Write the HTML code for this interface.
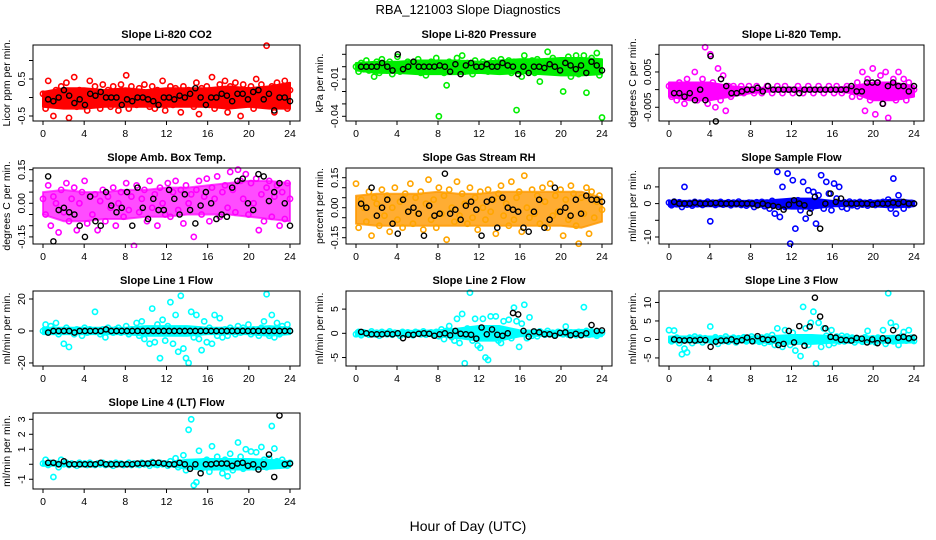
<!DOCTYPE html>
<html><head><meta charset="utf-8">
<style>
html,body{margin:0;padding:0;background:#fff;}
svg{display:block;font-family:"Liberation Sans",Arial,sans-serif;}
</style></head>
<body>
<svg id="chart" width="936" height="540" viewBox="0 0 936 540">
<text x="468" y="14" text-anchor="middle" font-size="13">RBA_121003  Slope Diagnostics</text>
<text x="468" y="531" text-anchor="middle" font-size="14">Hour of Day (UTC)</text>
</svg>
<script>
// ---------- data arrays ----------
const xTicks = [0,4,8,12,16,20,24];
const bandHours = [0,2,4,6,8,10,12,14,16,18,20,22,24];

const co2Colored = [0.1,-0.3,0.45,0.0,-0.5,0.2,-0.1,0.3,-0.2,0.4,-0.55,0.1,0.55,-0.25,0.2,-0.1,0.0,-0.35,0.45,-0.2,0.3,0.1,-0.3,0.35,-0.1,0.2,-0.25,0.3,0.0,-0.35,0.35,-0.15,0.6,-0.3,0.3,0.0,-0.2,0.25,-0.1,0.35,0.1,-0.25,0.3,-0.3,0.2,0.0,0.45,-0.35,-0.1,0.3,-0.2,0.25,0.05,-0.4,0.3,-0.15,0.2,0.1,-0.25,0.4,-0.45,0.25,-0.1,0.3,-0.2,0.55,-0.3,0.1,0.35,-0.1,0.45,-0.4,0.3,-0.2,0.4,0.0,-0.5,0.35,-0.1,0.2,0.3,-0.3,0.5,-0.1,0.35,0.0,1.4,-0.2,0.3,-0.4,0.4,0.1,-0.2,0.45,-0.3,0.2];
const co2Black = [-0.05,-0.1,0.0,0.2,0.05,-0.15,-0.05,-0.2,0.1,0.05,0.15,0.0,0.0,0.0,-0.2,-0.05,-0.1,0.0,0.0,-0.05,-0.1,-0.2,0.0,0.0,-0.05,0.05,0.0,0.1,0.25,0.0,-0.2,0.0,0.0,0.1,0.05,-0.1,0.1,0.1,-0.05,0.15,0.2,-0.05,0.1,-0.35,0.0,0.0,-0.1];
const co2BandLo = [-0.25,-0.3,-0.3,-0.25,-0.25,-0.25,-0.25,-0.25,-0.25,-0.3,-0.25,-0.3,-0.3];
const co2BandHi = [0.15,0.25,0.25,0.2,0.25,0.2,0.25,0.25,0.25,0.3,0.25,0.3,0.4];
const co2Ticks = [-0.5,0,0.5,1.0];
const co2TickLabels = ["-0.5","","0.5",""];

const presColored = [0,-0.004,0.003,-0.002,0.005,-0.003,0.001,-0.008,0.004,-0.005,0.006,0.0,-0.003,0.004,-0.006,0.002,0.008,-0.004,0.001,-0.002,0.004,0.0,-0.003,0.003,0.006,-0.005,0.002,-0.007,0.001,0.004,-0.002,0.007,-0.04,0.002,-0.005,-0.015,0.004,-0.003,0.001,0.007,-0.002,0.009,-0.004,0.003,0.0,-0.006,0.005,0.002,-0.003,0.004,0.0,-0.004,0.003,0.005,-0.002,0.001,0.006,-0.003,0.002,0.005,-0.005,0.004,-0.035,0.001,-0.008,0.009,0.003,-0.002,0.005,-0.005,0.006,-0.012,0.002,0.004,0.012,-0.003,0.007,0.001,-0.004,0.005,-0.02,0.003,0.008,-0.008,0.001,0.009,-0.006,0.005,0.009,-0.021,0.003,0.007,-0.004,0.011,-0.007,-0.041];
const presBlack = [0,0,0,0,0.003,0,-0.003,0.01,-0.002,0.0,0.004,0,0,0,0,0.001,0,-0.004,0.002,-0.006,0.001,0.003,0,0,0.002,0,0,0.003,0.001,0,-0.006,0,-0.005,0,0,-0.001,0.002,0,-0.003,0.003,0.001,-0.002,0.001,-0.005,0.004,0.001,-0.003];
const presBandLo = [-0.003,-0.005,-0.005,-0.006,-0.006,-0.006,-0.005,-0.006,-0.005,-0.006,-0.007,-0.007,-0.006];
const presBandHi = [0.003,0.004,0.004,0.005,0.005,0.005,0.004,0.005,0.006,0.006,0.007,0.007,0.006];
const presTicks = [-0.04,-0.03,-0.02,-0.01,0,0.01];
const presTickLabels = ["-0.04","","","-0.01","",""];

const tempColored = [0.001,-0.002,0.0,-0.003,0.002,-0.001,-0.004,0.003,0.0,-0.002,0.005,-0.003,0.001,0.003,0.012,-0.004,0.01,0.002,-0.005,0.006,-0.003,0.004,-0.006,0.001,-0.002,0.001,-0.001,0.0,0.001,-0.001,0.0,0.001,0.0,-0.001,0.001,0.0,-0.001,0.0,0.001,0.0,-0.001,0.0,0.001,0.0,-0.001,0.001,0.0,0.0,-0.001,0.0,0.001,0.0,-0.001,0.0,0.001,0.0,-0.001,0.0,0.001,0.0,-0.001,0.0,0.001,0.0,-0.001,0.001,0.0,-0.001,0.0,0.001,0.0,-0.002,0.0,0.002,-0.002,0.005,-0.006,0.003,-0.003,0.006,-0.007,0.002,0.004,-0.004,0.005,-0.008,0.001,0.003,-0.003,0.005,-0.002,0.003,-0.003,0.002,-0.001,0.0];
const tempBlack = [-0.001,-0.001,-0.002,-0.001,-0.003,0.0,-0.003,0.0095,-0.009,0.003,0.001,-0.001,-0.001,-0.0005,0.0,0.0,0.0005,-0.0005,0.001,0.0,0.0,0.0,0.0,0.0,-0.001,0.0,0.0,0.0,0.0,0.0,0.0,0.0,0.0,0.0,0.001,-0.0005,-0.0005,0.002,0.002,0.002,-0.004,0.001,0.002,0.001,0.001,-0.0005,0.001];
const tempBandLo = [-0.002,-0.003,-0.003,-0.002,-0.001,-0.0005,-0.0005,-0.0005,-0.0005,-0.001,-0.003,-0.003,-0.002];
const tempBandHi = [0.002,0.002,0.002,0.001,0.0005,0.0005,0.0005,0.0005,0.0005,0.001,0.002,0.002,0.001];
const tempTicks = [-0.005,0,0.005,0.01];
const tempTickLabels = ["-0.005","","0.005",""];

const ambColored = [0.02,-0.05,0.08,-0.1,0.03,0.0,-0.13,0.06,-0.04,0.09,-0.08,0.02,0.07,-0.12,0.0,0.05,0.1,-0.09,0.03,-0.05,0.04,-0.12,0.01,0.06,-0.08,0.03,-0.02,0.07,-0.1,0.0,0.05,-0.06,0.09,-0.03,0.03,-0.19,0.08,-0.04,0.02,0.06,-0.08,0.1,-0.02,0.04,-0.1,0.07,0.0,-0.05,0.09,-0.06,0.05,0.1,-0.03,0.06,-0.09,0.08,0.0,0.04,-0.15,0.06,0.1,-0.05,0.03,0.11,-0.08,0.07,0.02,0.12,-0.06,0.05,0.08,-0.02,0.14,0.06,-0.04,0.15,0.1,0.02,0.13,-0.05,0.09,0.0,0.11,-0.12,0.04,-0.08,0.07,0.1,-0.06,0.03,0.08,-0.1,0.05,-0.07,0.09,0.02];
const ambBlack = [0.12,-0.17,-0.03,-0.02,-0.04,-0.05,-0.1,-0.15,0.03,-0.08,-0.1,0.05,-0.01,-0.04,-0.02,0.05,-0.1,0.07,-0.02,-0.07,0.02,-0.03,-0.03,0.06,0.02,-0.05,0.04,-0.03,-0.09,-0.01,0.05,0.0,-0.07,-0.05,-0.06,0.07,0.1,0.11,0.0,-0.03,0.13,0.12,0.01,0.05,0.09,0.0,-0.1];
const ambBandLo = [-0.05,-0.08,-0.08,-0.07,-0.07,-0.06,-0.06,-0.05,-0.05,-0.05,-0.06,-0.07,-0.08];
const ambBandHi = [0.05,0.06,0.05,0.05,0.06,0.06,0.07,0.07,0.08,0.09,0.1,0.1,0.09];
const ambTicks = [-0.15,-0.1,-0.05,0,0.05,0.1,0.15];
const ambTickLabels = ["-0.15","","","0.00","","","0.15"];

const rhColored = [0.12,-0.1,0.04,0.0,-0.07,0.08,-0.14,0.05,0.02,-0.09,0.09,-0.04,0.06,-0.12,0.0,0.1,-0.06,0.03,-0.1,0.07,-0.02,0.12,-0.08,0.05,-0.03,0.08,-0.11,0.02,0.14,-0.06,0.04,-0.1,0.1,-0.03,0.06,-0.16,0.09,0.0,-0.07,0.13,-0.04,0.07,0.02,-0.08,0.1,-0.05,0.05,-0.11,0.08,0.0,-0.06,0.09,-0.02,0.04,-0.13,0.07,0.11,-0.04,0.02,-0.09,0.13,-0.06,0.05,0.08,-0.12,0.16,0.0,-0.05,0.09,-0.03,0.06,-0.08,0.1,0.03,-0.1,0.12,-0.04,0.06,-0.02,0.09,-0.14,0.04,-0.06,0.11,0.07,-0.09,-0.18,0.05,-0.03,0.1,-0.13,0.08,-0.05,0.03,0.06,-0.01];
const rhBlack = [0.02,0.0,0.1,-0.04,0.0,0.04,-0.08,-0.13,0.04,-0.02,0.0,-0.03,-0.14,0.01,-0.04,-0.03,0.17,-0.03,-0.01,-0.06,0.01,0.03,-0.01,-0.14,0.03,0.04,-0.1,0.05,0.0,-0.01,-0.02,-0.1,-0.12,-0.02,0.04,-0.1,-0.06,0.1,-0.02,0.0,-0.04,0.04,-0.03,0.06,0.04,0.04,0.03];
const rhBandLo = [-0.08,-0.09,-0.09,-0.09,-0.09,-0.09,-0.09,-0.09,-0.09,-0.09,-0.09,-0.1,-0.07];
const rhBandHi = [0.06,0.07,0.07,0.07,0.08,0.07,0.07,0.08,0.08,0.08,0.08,0.08,0.05];
const rhTicks = [-0.15,-0.1,-0.05,0,0.05,0.1,0.15];
const rhTickLabels = ["-0.15","","","0.00","","","0.15"];

const sampleColored = [0.3,-0.5,0.6,-0.2,0.4,-1.0,5.0,-0.3,0.2,-0.6,0.5,-0.2,0.3,-0.4,0.1,0.6,-5.3,0.3,-0.4,0.2,0.5,-0.3,0.0,0.4,-0.5,0.3,-0.2,0.6,-0.4,0.1,-0.6,0.3,0.2,-1.0,0.4,-0.3,0.5,-0.8,0.3,-1.5,0.8,-3.0,9.5,-4.0,5.0,-1.0,9.0,-12.0,7.0,-7.5,1.0,-2.0,6.5,-4.5,4.0,-1.5,3.5,-6.0,2.5,8.5,-1.5,6.5,3.0,-2.0,6.0,1.5,5.0,-1.0,0.4,-1.5,0.6,-0.5,0.3,-0.8,0.5,-0.3,0.2,-0.6,0.4,0.0,-0.4,0.3,-0.2,0.5,0.2,1.2,-1.5,7.5,-3.0,2.5,0.5,-1.5,0.3,-0.4,0.2,0.0];
const sampleBlack = [0.5,0.0,0.0,0.0,0.3,0.0,0.0,0.0,0.2,0.0,0.0,0.0,0.0,0.0,0.0,0.0,-0.5,0.0,-0.5,-0.7,-1.0,-1.8,-0.3,1.0,0.0,-0.5,-2.8,2.0,-7.5,0.0,3.0,0.5,1.5,0.0,0.0,0.0,0.0,0.0,-0.3,0.0,0.0,0.0,0.3,0.0,0.5,0.0,0.0];
const sampleBandLo = [-0.8,-0.8,-0.8,-0.8,-0.8,-1.0,-1.5,-1.5,-0.8,-0.8,-0.8,-1.2,-0.8];
const sampleBandHi = [0.8,0.8,0.8,0.8,0.8,1.0,1.5,1.5,0.8,0.8,0.8,1.2,0.8];
const sampleTicks = [-10,-5,0,5];
const sampleTickLabels = ["-10","","0","5"];

const line1Colored = [0,4,-1,3,1,5,-2,0,-8,2,-10,0,-2,1,0,-3,2,-1,1,0,12,0,-2,1,-4,2,0,-1,1,2,-1,0,3,-2,1,0,5,-3,6,-5,1,-8,14,-7,4,-17,7,-6,3,18,-8,10,-13,22,-11,-17,-20,12,-4,10,-5,-12,6,-7,2,-8,10,-3,8,-4,1,-3,2,0,-2,3,-1,2,0,4,-2,1,0,-3,2,6,23,-3,10,-4,5,-2,3,1,4,0];
const line1Black = [-1,0,0,0,0,-1,0,0,0,0,0,1,0,0,0,0,0,0,0,0,0,0,0,0,0,0,0,0,0,0,0,0,0,0,0,0,0,0,0,0,0,0,0,0,0,0,0];
const line1BandLo = [-2,-2,-2,-2,-2,-3,-3,-3,-2,-2,-2,-3,-2];
const line1BandHi = [2,2,2,2,2,3,3,3,2,2,2,3,2];
const line1Ticks = [-20,0,20];
const line1TickLabels = ["-20","0","20"];

const line2Colored = [-0.2,0.3,-0.4,0.2,0.0,-0.3,0.4,-0.2,0.1,-0.5,0.3,0.0,-0.2,0.4,-0.3,0.1,0.0,-0.5,0.3,-0.2,0.2,0.0,-0.4,0.3,0.1,-0.2,0.4,-0.3,0.0,0.2,-0.4,0.3,-0.6,0.8,-1.2,0.5,1.5,-0.8,-1.5,3.0,-2.0,4.0,-6.2,1.0,8.4,-1.5,3.0,-2.5,-3.0,3.0,-5.0,-5.5,3.5,1.0,3.5,-1.5,-2.0,2.5,0.5,2.8,-1.0,5.3,2.5,-2.8,2.0,5.9,-1.0,3.3,-0.5,0.3,-0.6,0.4,0.0,-0.3,0.5,-0.2,0.1,-0.4,0.3,0.0,-0.2,1.4,-0.3,0.2,0.0,-0.4,0.3,-0.2,5.4,0.5,-0.3,0.4,0.0,-0.5,0.3,0.1];
const line2Black = [0.3,0.0,-0.2,-0.2,-0.2,-0.1,-0.2,0.0,-1.0,-0.3,-0.3,-0.1,0.0,-0.1,-0.5,-0.2,0.0,-0.4,0.5,-0.1,-0.2,-0.3,-1.1,1.2,-0.2,0.8,-0.3,-0.5,0.0,4.2,3.9,0.5,-0.7,0.4,0.2,-0.2,-0.2,-0.5,0.1,0.2,-0.4,-0.1,-0.4,0.0,1.7,0.5,0.6];
const line2BandLo = [-0.5,-0.5,-0.5,-0.5,-0.6,-1.0,-1.5,-1.5,-0.6,-0.5,-0.5,-0.7,-0.6];
const line2BandHi = [0.5,0.5,0.5,0.5,0.6,1.0,1.5,1.5,0.6,0.5,0.5,0.7,0.6];
const line2Ticks = [-5,0,5];
const line2TickLabels = ["-5","0","5"];

const line3Colored = [2.5,-0.5,2.4,0.5,-1.0,-4.0,-2.5,-3.5,0.5,-1.0,0.8,-0.3,0.5,-0.8,0.3,0.0,3.5,-0.5,0.6,-1.2,0.3,-0.4,0.8,-0.6,0.2,0.5,-0.8,0.3,-0.2,0.6,-0.5,0.2,0.8,-0.4,0.3,-0.6,0.5,-1.0,0.8,-0.6,1.2,-1.5,3.0,-1.0,-2.0,2.5,0.0,-1.5,1.8,-3.0,0.5,-4.5,8.8,3.0,-1.5,4.5,7.5,-6.5,4.5,-2.0,3.0,1.0,-1.5,2.5,-1.0,0.8,-0.5,1.0,-0.5,0.8,-0.3,0.5,-0.8,0.3,0.0,-0.6,0.6,2.3,-0.5,0.3,-0.8,0.5,0.2,2.5,-1.2,12.5,4.5,-0.5,3.5,-1.5,0.8,2.0,-0.3,2.5,0.5,-0.4];
const line3Black = [0.0,-0.2,-0.3,-0.2,-0.3,-0.1,-0.2,-2.0,-0.6,-0.3,-0.3,0.0,-0.5,-0.2,0.5,-0.5,0.9,0.1,-0.1,0.0,-1.5,-1.2,2.3,-0.8,3.6,-1.7,3.5,11.3,6.2,3.0,0.7,0.5,-0.1,-0.2,-0.3,0.4,0.2,-0.8,0.0,-1.0,0.3,-0.3,2.5,0.5,0.7,0.3,0.5];
const line3BandLo = [-0.8,-0.8,-0.8,-0.8,-0.8,-0.9,-1.2,-1.2,-0.9,-0.8,-0.8,-1.0,-0.8];
const line3BandHi = [0.8,0.8,0.8,0.8,0.8,0.9,1.2,1.2,0.9,0.8,0.8,1.0,0.8];
const line3Ticks = [-5,0,5,10];
const line3TickLabels = ["-5","0","5","10"];

const line4Colored = [0.05,0.3,-0.05,0.1,-0.85,0.05,-0.2,0.3,0.0,0.1,-0.05,0.05,0.0,-0.1,0.1,0.0,0.05,-0.05,0.1,0.0,-0.05,0.05,0.0,0.1,-0.05,0.0,0.05,-0.1,0.1,0.0,0.05,-0.05,0.0,0.1,-0.05,0.05,0.0,-0.05,0.1,0.0,0.05,-0.1,0.15,0.0,-0.05,0.1,0.0,0.05,-0.1,0.2,0.0,0.4,-0.2,0.1,0.6,-0.4,2.3,3.0,-1.4,-1.2,0.9,-0.3,0.2,0.3,-0.5,1.2,-0.2,0.5,0.1,-0.6,0.3,-0.8,0.7,-0.4,0.2,1.45,0.5,-0.3,1.0,0.1,0.85,-0.2,0.8,-0.1,1.15,0.3,-0.2,0.4,2.55,1.05,0.2,-0.1,0.3,0.0,-0.1,0.1];
const line4Black = [0.1,0.1,0.0,0.2,0.0,0.0,0.0,0.0,0.0,0.0,0.1,0.0,0.0,0.0,0.0,0.0,0.0,0.05,0.05,0.05,0.1,0.1,0.05,0.0,0.0,0.1,0.0,-0.3,0.0,-0.6,0.0,0.0,0.05,0.05,0.05,-0.1,0.05,0.1,-0.1,0.0,-0.35,0.0,0.65,-0.85,3.25,0.0,0.05];
const line4BandLo = [-0.1,-0.1,-0.1,-0.1,-0.1,-0.1,-0.1,-0.3,-0.35,-0.35,-0.35,-0.3,-0.2];
const line4BandHi = [0.1,0.1,0.1,0.1,0.1,0.1,0.1,0.3,0.35,0.35,0.35,0.3,0.2];
const line4Ticks = [-1,0,1,2,3];
const line4TickLabels = ["-1","","1","2","3"];

// ---------- layout ----------
const NS = "http://www.w3.org/2000/svg";
const svg = document.getElementById('chart');
function mk(tag, attrs, parent){const e=document.createElementNS(NS,tag);for(const k in attrs)e.setAttribute(k,attrs[k]);(parent||svg).appendChild(e);return e;}

const colX = [[33,300],[346,612],[659,924]];
const rowY = [[45,121],[168,244],[291,366],[413,489]];
const panels = [
 {id:'co2',title:'Slope Li-820 CO2',yt:'Licor ppm per min.',c:0,r:0,ymin:-0.635,ymax:1.419,col:'#ff0000',bc:'#ff0000',op:1,cd:co2Colored,bd:co2Black,lo:co2BandLo,hi:co2BandHi,ticks:co2Ticks,labels:co2TickLabels},
 {id:'pressure',title:'Slope Li-820 Pressure',yt:'kPa per min.',c:1,r:0,ymin:-0.0438,ymax:0.0175,col:'#00ee00',bc:'#00ee00',op:1,cd:presColored,bd:presBlack,lo:presBandLo,hi:presBandHi,ticks:presTicks,labels:presTickLabels},
 {id:'temp',title:'Slope Li-820 Temp.',yt:'degrees C per min.',c:2,r:0,ymin:-0.00889,ymax:0.01264,col:'#ff00ff',bc:'#ff00ff',op:1,cd:tempColored,bd:tempBlack,lo:tempBandLo,hi:tempBandHi,ticks:tempTicks,labels:tempTickLabels},
 {id:'amb-box-temp',title:'Slope Amb. Box Temp.',yt:'degrees C per min.',c:0,r:1,ymin:-0.1817,ymax:0.1576,col:'#ff00ff',bc:'#ff00ff',op:0.7,cd:ambColored,bd:ambBlack,lo:ambBandLo,hi:ambBandHi,ticks:ambTicks,labels:ambTickLabels},
 {id:'gas-stream-rh',title:'Slope Gas Stream RH',yt:'percent per min.',c:1,r:1,ymin:-0.1815,ymax:0.1985,col:'#ffa500',bc:'#ff9900',op:0.8,cd:rhColored,bd:rhBlack,lo:rhBandLo,hi:rhBandHi,ticks:rhTicks,labels:rhTickLabels},
 {id:'sample-flow',title:'Slope Sample Flow',yt:'ml/min per min.',c:2,r:1,ymin:-12.1,ymax:10.66,col:'#0000ff',bc:'#0000ff',op:1,cd:sampleColored,bd:sampleBlack,lo:sampleBandLo,hi:sampleBandHi,ticks:sampleTicks,labels:sampleTickLabels},
 {id:'line1-flow',title:'Slope Line 1 Flow',yt:'ml/min per min.',c:0,r:2,ymin:-21.9,ymax:25,col:'#00ffff',bc:'#00ffff',op:1,cd:line1Colored,bd:line1Black,lo:line1BandLo,hi:line1BandHi,ticks:line1Ticks,labels:line1TickLabels},
 {id:'line2-flow',title:'Slope Line 2 Flow',yt:'ml/min per min.',c:1,r:2,ymin:-6.75,ymax:8.74,col:'#00ffff',bc:'#00ffff',op:1,cd:line2Colored,bd:line2Black,lo:line2BandLo,hi:line2BandHi,ticks:line2Ticks,labels:line2TickLabels},
 {id:'line3-flow',title:'Slope Line 3 Flow',yt:'ml/min per min.',c:2,r:2,ymin:-7.18,ymax:13.1,col:'#00ffff',bc:'#00ffff',op:1,cd:line3Colored,bd:line3Black,lo:line3BandLo,hi:line3BandHi,ticks:line3Ticks,labels:line3TickLabels},
 {id:'line4-flow',title:'Slope Line 4 (LT) Flow',yt:'ml/min per min.',c:0,r:3,ymin:-1.65,ymax:3.42,col:'#00ffff',bc:'#00ffff',op:1,cd:line4Colored,bd:line4Black,lo:line4BandLo,hi:line4BandHi,ticks:line4Ticks,labels:line4TickLabels}
];

panels.forEach(p=>{
  const [L,R]=colX[p.c], [T,B]=rowY[p.r];
  const x0=L+10, x1=R-10;
  const xs=v=>x0+(v/24)*(x1-x0);
  const ys=v=>B-(v-p.ymin)/(p.ymax-p.ymin)*(B-T);
  const g=mk('g',{});
  
  
  const clipId='clip-'+p.id;
  const cp=mk('clipPath',{id:clipId},g); mk('rect',{x:L-4,y:T-4,width:R-L+8,height:B-T+8},cp);
  const t=mk('text',{x:(L+R)/2,y:T-7,'text-anchor':'middle','font-size':'11','font-weight':'bold'},g);
  t.textContent=p.title;
  
  
  const yt=mk('text',{x:L-23,y:(T+B)/2,'text-anchor':'middle','font-size':'10.5',transform:`rotate(-90 ${L-23} ${(T+B)/2})`},g);
  yt.textContent=p.yt;
  
  
  const pts=mk('g',{'clip-path':`url(#${clipId})`},g);
  
  
  const up=bandHours.map((h,i)=>`${xs(h)},${ys(p.hi[i])}`);
  const dn=bandHours.map((h,i)=>`${xs(h)},${ys(p.lo[i])}`).reverse();
  const band=mk('polygon',{points:up.concat(dn).join(' '),fill:p.bc,'fill-opacity':p.op,stroke:p.bc,'stroke-opacity':p.op,'stroke-width':2,'stroke-linejoin':'round'},pts);
  
  
  const n=p.cd.length;
  p.cd.forEach((v,i)=>{
    const c=mk('circle',{cx:xs(i*24/(n-1)),cy:ys(v),r:2.6,fill:'none',stroke:p.col,'stroke-width':1.6},pts);
    
    
  });
  const m=p.bd.length;
  p.bd.forEach((v,i)=>{
    const c=mk('circle',{cx:xs(0.5+i*23.5/(m-1)),cy:ys(v),r:2.6,fill:'none',stroke:'#000','stroke-width':1.4},pts);
    
    
  });
  const box=mk('rect',{x:L,y:T,width:R-L,height:B-T,fill:'none',stroke:'#000','stroke-width':1},g);
  
  
  xTicks.forEach(v=>{
    mk('line',{x1:xs(v),x2:xs(v),y1:B,y2:B+4,stroke:'#000'},g);
    const tl=mk('text',{x:xs(v),y:B+16,'text-anchor':'middle','font-size':'10.5'},g);
    tl.textContent=v;
    
    
  });
  p.ticks.forEach((v,i)=>{
    const y=ys(v);
    mk('line',{x1:L-4,x2:L,y1:y,y2:y,stroke:'#000'},g);
    if(p.labels[i]){
      const tl=mk('text',{x:L-8,y:y,'text-anchor':'middle','font-size':'10.5',transform:`rotate(-90 ${L-8} ${y})`},g);
      tl.textContent=p.labels[i];
      
      
    }
  });
});
</script>
</body></html>
